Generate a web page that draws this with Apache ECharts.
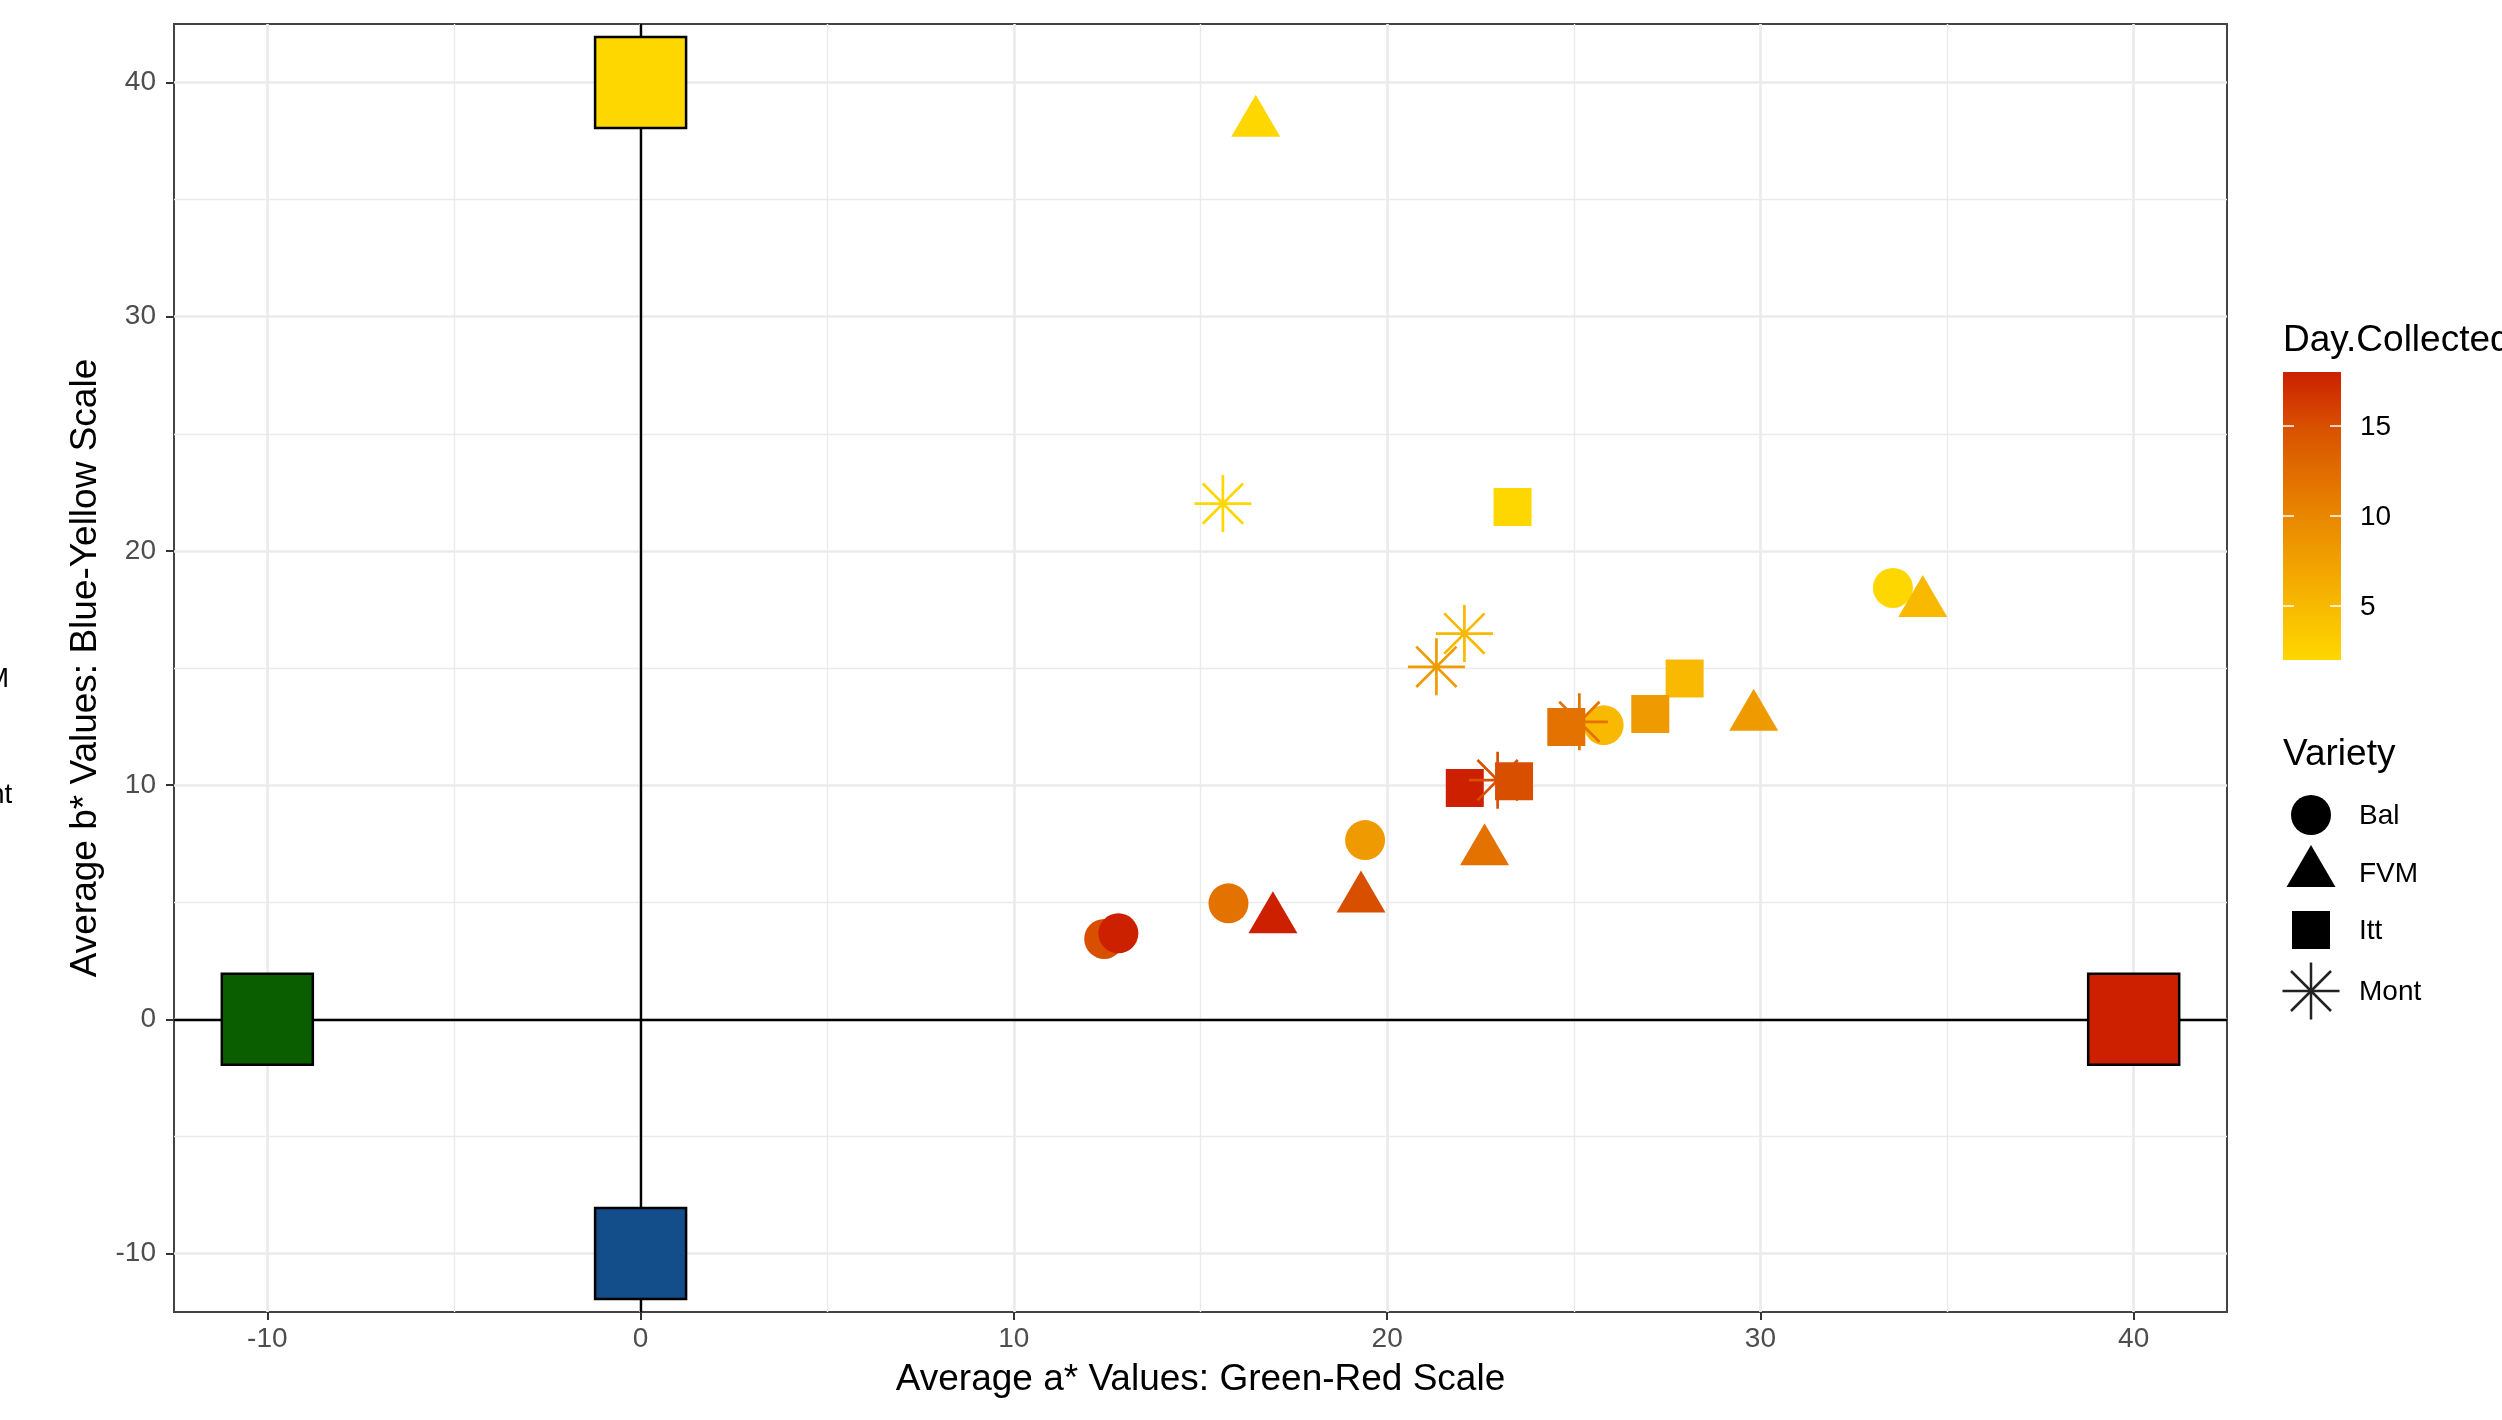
<!DOCTYPE html>
<html><head><meta charset="utf-8">
<script src="https://cdn.jsdelivr.net/npm/echarts@6/dist/echarts.min.js"></script>
<style>html,body{margin:0;padding:0;background:#fff}#c{width:2502px;height:1420px}</style>
</head><body><div id="c"></div>
<script>
// ---------- data ----------
const varieties = ['Bal', 'FVM', 'Itt', 'Mont'];
const days = [2, 5, 8, 12, 15, 18];
const balA = [33.55, 25.80, 19.41, 15.75, 12.42, 12.80];
const balB = [18.42, 12.56, 7.65, 4.95, 3.43, 3.67];
const fvmA = [16.48, 34.35, 29.82, 22.61, 19.30, 16.94];
const fvmB = [38.28, 17.78, 12.92, 7.17, 5.16, 4.27];
const ittA = [23.36, 27.97, 27.05, 24.80, 23.40, 22.08];
const ittB = [21.88, 14.55, 13.04, 12.48, 10.16, 9.88];
const montA = [15.60, 22.07, 21.32, 25.15, 22.96];
const montB = [22.02, 16.47, 15.05, 12.70, 10.21];
const montDays = [2, 5, 8, 12, 15];
const refA = [-10, 0, 0, 40];
const refB = [0, 40, -10, 0];
const xTicks = [-10, 0, 10, 20, 30, 40];
const yTicks = [-10, 0, 10, 20, 30, 40];
const xMinor = [-5, 5, 15, 25, 35];
const yMinor = [-5, 5, 15, 25, 35];
const dayTicks = [5, 10, 15];
const dayMin = 2, dayMax = 18;

// ---------- styles ----------
const colorStops = ['#FFD700', '#F7B700', '#EE9700', '#E47600', '#D95200', '#CC2000'];
const refColors = ['#0A5E00', '#FFD700', '#134E8A', '#CC2000'];
const FONT = '"Liberation Sans", Arial, sans-serif';
const TICK_FS = 28, TITLE_FS = 37;
const asteriskPath = 'path://M-0.047,-1L0.047,-1L0.047,1L-0.047,1ZM-1,-0.047L1,-0.047L1,0.047L-1,0.047ZM-0.674,-0.74L0.74,0.674L0.674,0.74L-0.74,-0.674ZM-0.74,0.674L0.674,-0.74L0.74,-0.674L-0.674,0.74Z';
const shapeStyle = {
  Bal: { symbol: 'circle', size: 40, offset: [0, 0] },
  FVM: { symbol: 'triangle', size: [49, 42], offset: [0, -7] },
  Itt: { symbol: 'rect', size: 38, offset: [0, 0] },
  Mont: { symbol: asteriskPath, size: 57, offset: [0, 0] }
};

function pts(a, b, d) { return a.map((v, i) => [v, b[i], d[i]]); }
const seriesData = {
  Bal: pts(balA, balB, days),
  FVM: pts(fvmA, fvmB, days),
  Itt: pts(ittA, ittB, days),
  Mont: pts(montA, montB, montDays)
};

const dataSeries = varieties.map(v => ({
  name: v, type: 'scatter', z: 4,
  symbol: shapeStyle[v].symbol,
  symbolSize: shapeStyle[v].size,
  symbolOffset: shapeStyle[v].offset,
  itemStyle: { opacity: 1 },
  emphasis: { disabled: true },
  data: seriesData[v]
}));

const refSeries = {
  name: 'ref', type: 'scatter', z: 3, symbol: 'rect', symbolSize: 91,
  itemStyle: { borderColor: '#000', borderWidth: 2.5, opacity: 1 },
  emphasis: { disabled: true },
  data: refA.map((a, i) => ({ value: [a, refB[i]], itemStyle: { color: refColors[i] } }))
};

const helperSeries = {
  name: 'helper', type: 'scatter', z: 1, data: [],
  markLine: {
    z: 1, silent: true, symbol: ['none', 'none'], label: { show: false },
    animation: false,
    data: [
      ...xMinor.map(x => ({ xAxis: x, lineStyle: { color: '#EBEBEB', width: 1.4, type: 'solid' } })),
      ...yMinor.map(y => ({ yAxis: y, lineStyle: { color: '#EBEBEB', width: 1.4, type: 'solid' } })),
      { xAxis: 0, lineStyle: { color: '#000', width: 2.4, type: 'solid' } },
      { yAxis: 0, lineStyle: { color: '#000', width: 2.4, type: 'solid' } }
    ]
  }
};

// ---------- legends (graphic) ----------
const cbLeft = 2283, cbTop = 372, cbW = 58, cbH = 288;
const dayY = v => cbTop + (dayMax - v) / (dayMax - dayMin) * cbH;
const graphics = [];
graphics.push({ type: 'text', x: cbLeft, y: 341, style: { text: 'Day.Collected', fontSize: TITLE_FS, fontFamily: FONT, fill: '#000', align: 'left', verticalAlign: 'middle' } });
graphics.push({ type: 'rect', shape: { x: cbLeft, y: cbTop, width: cbW, height: cbH },
  style: { fill: new echarts.graphic.LinearGradient(0, 1, 0, 0, colorStops.map((c, i) => ({ offset: i / (colorStops.length - 1), color: c }))) } });
dayTicks.forEach(v => {
  const y = dayY(v);
  graphics.push({ type: 'line', shape: { x1: cbLeft, y1: y, x2: cbLeft + 11, y2: y }, style: { stroke: '#fff', lineWidth: 1.5 } });
  graphics.push({ type: 'line', shape: { x1: cbLeft + cbW - 11, y1: y, x2: cbLeft + cbW, y2: y }, style: { stroke: '#fff', lineWidth: 1.5 } });
  graphics.push({ type: 'text', x: 2360, y: y + 1, style: { text: String(v), fontSize: TICK_FS, fontFamily: FONT, fill: '#000', align: 'left', verticalAlign: 'middle' } });
});
graphics.push({ type: 'text', x: cbLeft, y: 755, style: { text: 'Variety', fontSize: TITLE_FS, fontFamily: FONT, fill: '#000', align: 'left', verticalAlign: 'middle' } });
const legX = 2311, legYs = [815, 873, 930, 991];
graphics.push({ type: 'circle', shape: { cx: legX, cy: legYs[0], r: 20 }, style: { fill: '#000' } });
graphics.push({ type: 'polygon', shape: { points: [[legX, legYs[1] - 28], [legX + 24.5, legYs[1] + 14], [legX - 24.5, legYs[1] + 14]] }, style: { fill: '#000' } });
graphics.push({ type: 'rect', shape: { x: legX - 19, y: legYs[2] - 19, width: 38, height: 38 }, style: { fill: '#000' } });
[[0, -28.5, 0, 28.5], [-28.5, 0, 28.5, 0], [-20, -20, 20, 20], [-20, 20, 20, -20]].forEach(s => {
  graphics.push({ type: 'line', shape: { x1: legX + s[0], y1: legYs[3] + s[1], x2: legX + s[2], y2: legYs[3] + s[3] }, style: { stroke: '#222', lineWidth: 2.5 } });
});
varieties.forEach((v, i) => {
  graphics.push({ type: 'text', x: 2359, y: legYs[i] + 1, style: { text: v, fontSize: TICK_FS, fontFamily: FONT, fill: '#000', align: 'left', verticalAlign: 'middle' } });
});
// clipped remnants of a neighbouring legend at the left edge
graphics.push({ type: 'text', x: -50, y: 679, style: { text: 'FVM', fontSize: TICK_FS, fontFamily: FONT, fill: '#000', align: 'left', verticalAlign: 'middle' } });
graphics.push({ type: 'text', x: -50, y: 795, style: { text: 'Mont', fontSize: TICK_FS, fontFamily: FONT, fill: '#000', align: 'left', verticalAlign: 'middle' } });

function axisCfg(name, ticks, gap, margin) {
  return {
    type: 'value', min: -12.5, max: 42.5, name: name, nameLocation: 'middle', nameGap: gap,
    nameTextStyle: { fontSize: TITLE_FS, color: '#000', fontFamily: FONT },
    axisLine: { show: false, onZero: false },
    axisTick: { show: true, inside: false, length: 8, customValues: ticks, lineStyle: { color: '#333', width: 2 } },
    axisLabel: { customValues: ticks, margin: margin, fontSize: TICK_FS, color: '#4D4D4D', fontFamily: FONT },
    splitLine: { show: true, lineStyle: { color: '#EBEBEB', width: 2.7 } },
    minorSplitLine: { show: false }
  };
}

const chart = echarts.init(document.getElementById('c'), null, { renderer: 'canvas' });
chart.setOption({
  animation: false,
  backgroundColor: '#fff',
  textStyle: { fontFamily: FONT },
  grid: { left: 174, top: 24, width: 2053, height: 1288, show: true, borderColor: '#444', borderWidth: 2, backgroundColor: 'transparent' },
  xAxis: axisCfg('Average a* Values: Green-Red Scale', xTicks, 49, 13),
  yAxis: axisCfg('Average b* Values: Blue-Yellow Scale', yTicks, 68, 18),
  visualMap: { type: 'continuous', show: false, min: dayMin, max: dayMax, dimension: 2, seriesIndex: [0, 1, 2, 3], inRange: { color: colorStops } },
  series: [...dataSeries, refSeries, helperSeries],
  graphic: graphics
});
</script></body></html>
